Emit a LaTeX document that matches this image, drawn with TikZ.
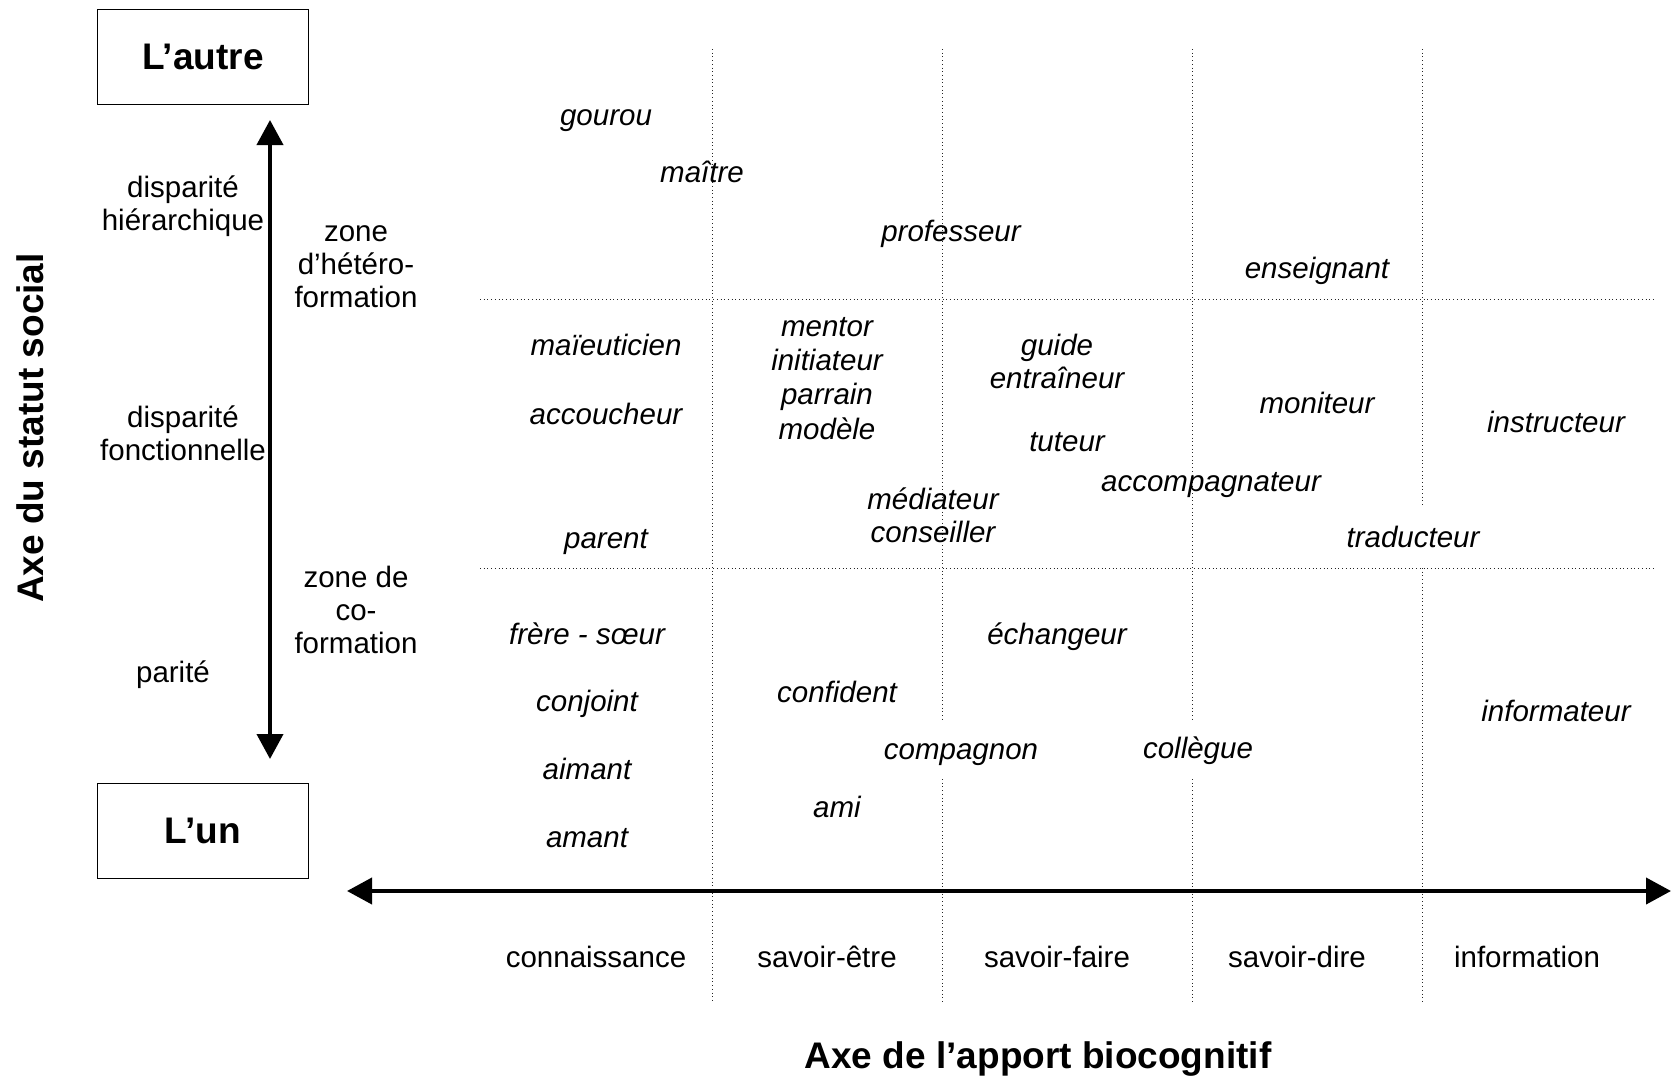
\documentclass[tikz,border=0pt]{standalone}
\usepackage{fontspec}
\setmainfont{Liberation Sans}
\usepackage{tikz}
\usetikzlibrary{arrows.meta}

\begin{document}
\begin{tikzpicture}[x=1pt, y=-1pt,
                        lbl/.style={inner sep=0pt, anchor=base, align=center, font=\fontsize{29.5}{33}\selectfont},
                        role/.style={lbl, font=\fontsize{29.5}{33}\selectfont\itshape},
                        axistitle/.style={inner sep=0pt, font=\fontsize{37}{40}\selectfont\bfseries},
                        endbox/.style={draw, line width=1.3pt, minimum width=211pt, minimum height=95pt, inner sep=0pt, font=\fontsize{37}{40}\selectfont\bfseries},
                        grid/.style={black!85, line width=1pt, dash pattern=on 1pt off 2.7pt},
                        axis/.style={line width=4pt, {Triangle[length=25pt, width=26pt]}-{Triangle[length=25pt, width=26pt]}}]
                        \useasboundingbox (0, 0) rectangle (1676, 1076);

                        \draw[grid] (712, 49) -- (712, 1003);
                        \draw[grid] (942, 49) -- (942, 719) (942, 779) -- (942, 1003);
                        \draw[grid] (1192, 49) -- (1192, 719) (1192, 779) -- (1192, 1003);
                        \draw[grid] (1422, 49) -- (1422, 507) (1422, 568) -- (1422, 1003);
                        \draw[grid] (480, 299) -- (1654, 299);
                        \draw[grid] (480, 568) -- (1654, 568);

                        \node (autre) at (203, 57) [endbox] {L’autre};
                        \node (un) at (203, 831) [endbox] {L’un};

                        \coordinate (vtop) at (270, 120);
                        \coordinate (vbot) at (270, 759);
                        \coordinate (hleft) at (347, 891);
                        \coordinate (hright) at (1671, 891);
                        \draw[axis] (vbot) -- (vtop);
                        \draw[axis] (hleft) -- (hright);

                        \node (statut) at (30, 428) [axistitle, rotate=90] {Axe du statut social};
                        \node (apport) at (1038, 1068) [axistitle, anchor=base] {Axe de l’apport biocognitif};

                        \node (hier) at (183, 230) [lbl] {disparité\\hiérarchique};
                        \node (fonc) at (183, 460) [lbl] {disparité\\fonctionnelle};
                        \node (parite) at (173, 682) [lbl] {parité};
                        \node (hetero) at (356, 307) [lbl] {zone\\d’hétéro-\\formation};
                        \node (coform) at (356, 653) [lbl] {zone de\\co-\\formation};

                        \node (connaissance) at (596, 967) [lbl] {connaissance};
                        \node (etre) at (827, 967) [lbl] {savoir-être};
                        \node (faire) at (1057, 967) [lbl] {savoir-faire};
                        \node (dire) at (1297, 967) [lbl] {savoir-dire};
                        \node (information) at (1527, 967) [lbl] {information};

                        \node (gourou) at (606, 125) [role] {gourou};
                        \node (maitre) at (702, 182) [role] {maître};
                        \node (professeur) at (951, 241) [role] {professeur};
                        \node (enseignant) at (1317, 278) [role] {enseignant};
                        \node (maieuticien) at (606, 355) [role] {maïeuticien};
                        \node (accoucheur) at (606, 424) [role] {accoucheur};
                        \node (mentor) at (827, 439) [role, font=\fontsize{29.5}{34.3}\selectfont\itshape] {mentor\\initiateur\\parrain\\modèle};
                        \node (guide) at (1057, 388) [role] {guide\\entraîneur};
                        \node (tuteur) at (1067, 451) [role] {tuteur};
                        \node (moniteur) at (1317, 413) [role] {moniteur};
                        \node (instructeur) at (1556, 432) [role] {instructeur};
                        \node (accompagnateur) at (1211, 491) [role] {accompagnateur};
                        \node (mediateur) at (933, 542) [role] {médiateur\\conseiller};
                        \node (parent) at (606, 548) [role] {parent};
                        \node (traducteur) at (1413, 547) [role] {traducteur};
                        \node (fratrie) at (587, 644) [role] {frère - sœur};
                        \node (echangeur) at (1057, 644) [role] {échangeur};
                        \node (confident) at (837, 702) [role] {confident};
                        \node (conjoint) at (587, 711) [role] {conjoint};
                        \node (informateur) at (1556, 721) [role] {informateur};
                        \node (compagnon) at (961, 759) [role] {compagnon};
                        \node (collegue) at (1198, 758) [role] {collègue};
                        \node (aimant) at (587, 779) [role] {aimant};
                        \node (ami) at (837, 817) [role] {ami};
                        \node (amant) at (587, 847) [role] {amant};
                    \end{tikzpicture}
\end{document}
